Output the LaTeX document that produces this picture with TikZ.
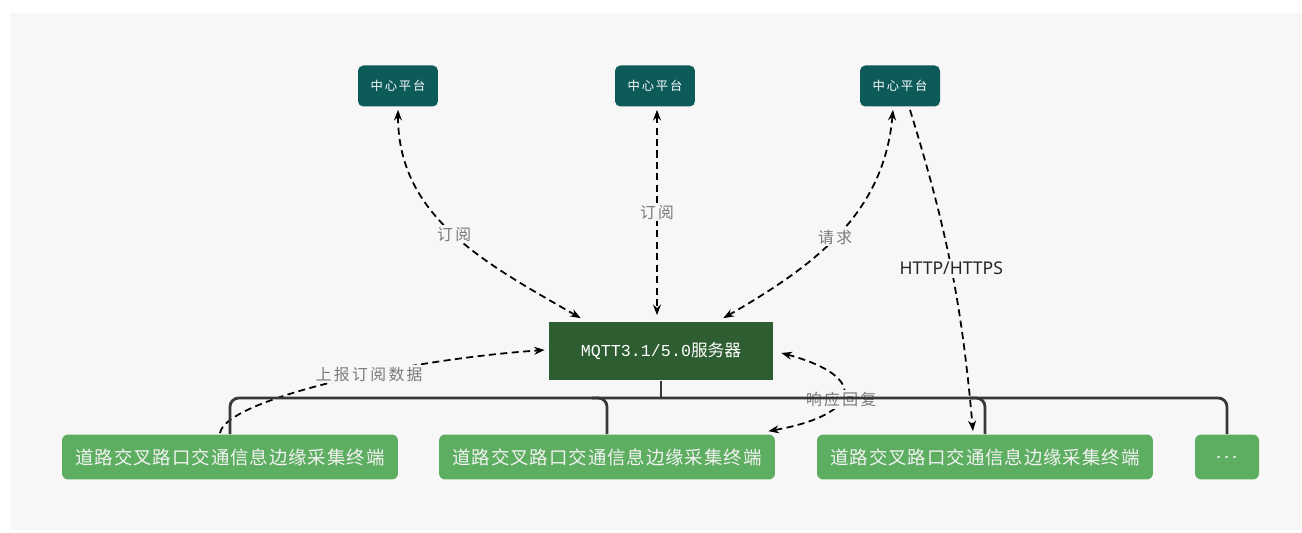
\documentclass[tikz,border=0pt]{standalone}
\usepackage{fontspec}
\newfontfamily\cjk{Noto Sans CJK SC}
\newfontfamily\cjkwide{Noto Sans CJK SC}[LetterSpace=15]
\newfontfamily\cjkterm{Noto Sans CJK SC}[LetterSpace=5]
\newfontfamily\monofnt{Liberation Mono}
\newfontfamily\latinsans{Noto Sans}
\usetikzlibrary{arrows.meta,calc}
\definecolor{bgcol}{HTML}{F7F7F7}
\definecolor{platcol}{HTML}{0C5B59}
\definecolor{srvcol}{HTML}{2D5D30}
\definecolor{termcol}{HTML}{5DAE61}
\definecolor{buscol}{HTML}{383838}
\definecolor{lblcol}{HTML}{7A7A7A}

\begin{document}
\begin{tikzpicture}[x=0.02cm,y=0.02cm,>={Stealth[length=6pt,width=4.5pt]},
    plat/.style={fill=platcol,rounded corners=3pt,minimum width=1.6cm,minimum height=0.82cm,
        text=white,font=\cjkwide\fontsize{7}{8}\selectfont},
    srvbox/.style={fill=srvcol,minimum width=4.48cm,minimum height=1.18cm,
        text=white,font=\cjk\fontsize{9.5}{11}\selectfont},
    term/.style={fill=termcol,rounded corners=3.5pt,minimum width=6.72cm,minimum height=0.9cm,
        inner xsep=2pt,text=white!95!black,font=\cjkterm\fontsize{10.5}{12}\selectfont},
    link/.style={draw=black,line width=1pt,dash pattern=on 4pt off 2.5pt},
    lbl/.style={fill=bgcol,text=lblcol,inner sep=1pt,font=\cjkwide\fontsize{9}{10}\selectfont},
    bus/.style={draw=buscol,line width=1.6pt}]
    \useasboundingbox (0,0) rectangle (1302,-533);
    \fill[bgcol] (10,-13) rectangle (1302,-530);

    % platforms, server and terminals
    \node[plat] (p1) at (398,-86) {中心平台};
    \node[plat] (p2) at (655,-86) {中心平台};
    \node[plat] (p3) at (900,-86) {中心平台};
    \node[srvbox] (srv) at (661,-351) {{\monofnt MQTT3.1/5.0}服务器};
    \node[term] (t1) at (230,-457) {道路交叉路口交通信息边缘采集终端};
    \node[term] (t2) at (607,-457) {道路交叉路口交通信息边缘采集终端};
    \node[term] (t3) at (985,-457) {道路交叉路口交通信息边缘采集终端};
    \node[term,minimum width=1.28cm,font=\cjkwide\fontsize{10.5}{12}\selectfont] (t4) at (1227,-457) {...};
    \coordinate (busy) at (0,-398);

    % dashed message flows
    \draw[link,<->] ($(p1.south)+(0,-3)$) to[out=-90,in=150] node[lbl,pos=0.5] {订阅}
        ($(srv.north west)+(32,3)$);
    \draw[link,<->] ($(p2.south)+(2,-3)$) -- node[lbl,pos=0.5] {订阅}
        ($(p2.south |- srv.north)+(2,6)$);
    \draw[link,<->] ($(p3.south)+(-7,-3)$) to[out=-95,in=30] node[lbl,pos=0.52] {请求}
        ($(srv.north east)+(-50,3)$);
    \draw[link,->] ($(p3.south)+(10,-3)$) to[bend left=6]
        node[fill=bgcol,inner sep=1.5pt,text=black!85,font=\latinsans\fontsize{10}{12}\selectfont,pos=0.5] {HTTP/HTTPS}
        ($(t3.north)+(-12,3)$);
    \draw[link,->] ($(t1.north)+(-10,1)$) .. controls ($(t1.north)+(-5,34)$) and ($(srv.west)+(-149,-9)$)
        .. node[lbl,pos=0.6] {上报订阅数据} ($(srv.west)+(-4,1)$);
    \draw[link,<->] ($(srv.east)+(8,-2)$) to[out=-15,in=10,looseness=3] node[lbl,pos=0.55] {响应回复}
        ($(t2.north east)+(-7,3)$);

    % bus from the server to the terminals
    \draw[bus] (srv.south) -- (srv.south |- busy);
    \draw[bus,rounded corners=5pt] (t1.north) |- (t4.north |- busy) -- (t4.north);
    \draw[bus,rounded corners=5pt] ($(t2.north |- busy)+(-15,0)$) -- (t2.north |- busy) -- (t2.north);
    \draw[bus,rounded corners=5pt] ($(t3.north |- busy)+(-15,0)$) -- (t3.north |- busy) -- (t3.north);
\end{tikzpicture}
\end{document}
